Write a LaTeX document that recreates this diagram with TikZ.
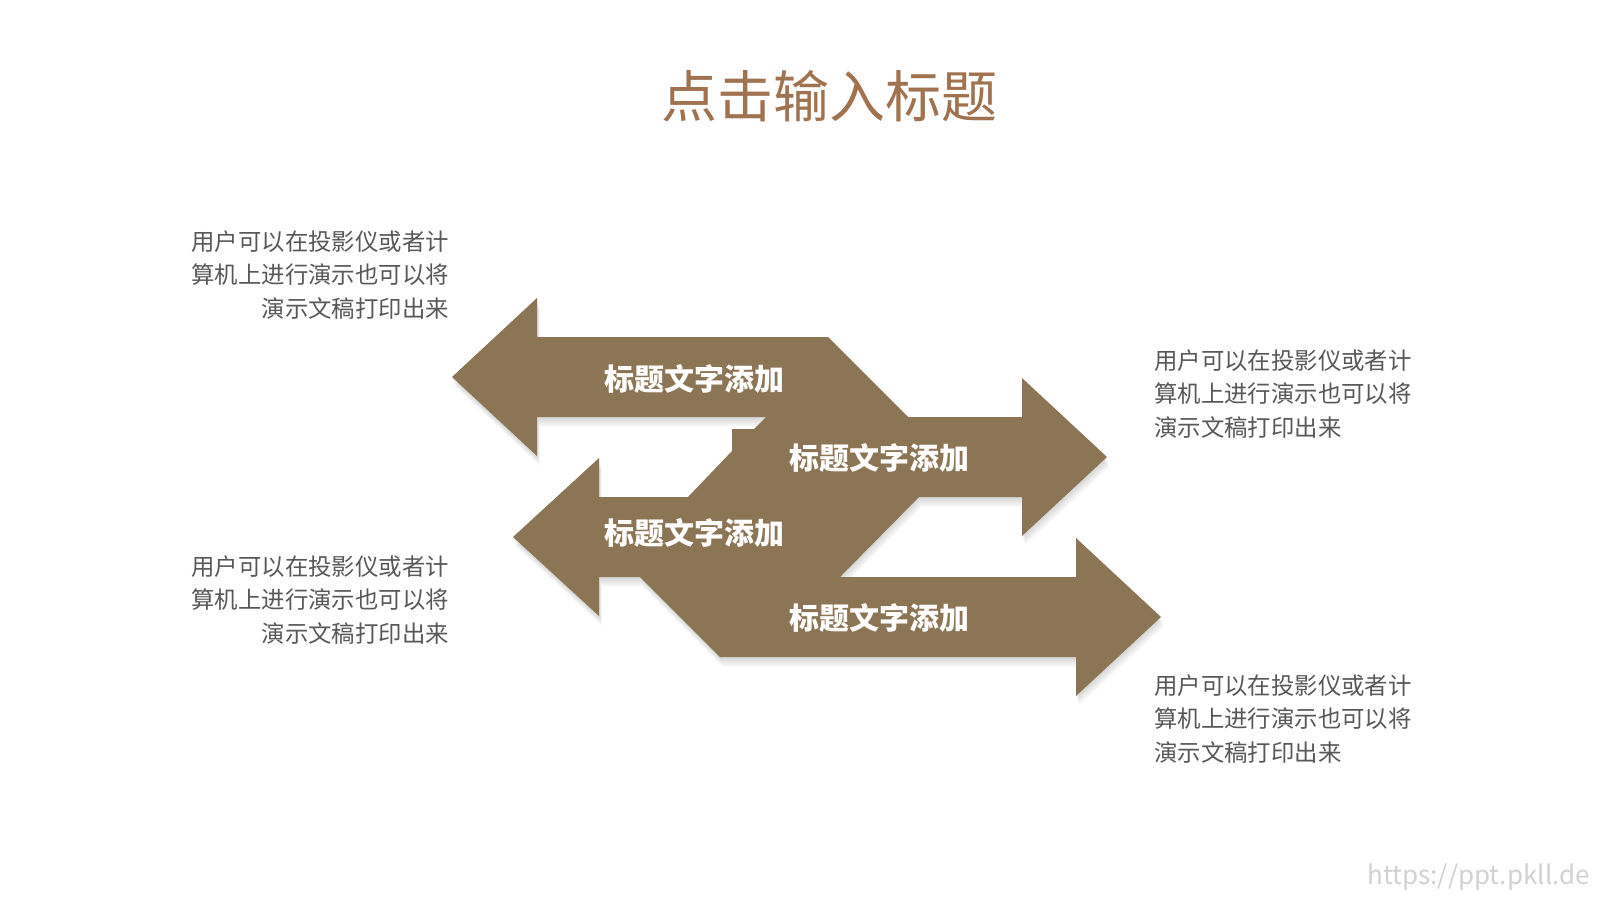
\documentclass[tikz,border=0pt]{standalone}
\usepackage{fontspec}
\setmainfont{Noto Sans CJK SC}
\newfontfamily\cjk{Noto Sans CJK SC}
\usepackage{tikz}
\definecolor{ArrowBrown}{RGB}{140,117,85}
\definecolor{TitleBrown}{RGB}{160,114,80}
\definecolor{NoteGray}{RGB}{88,88,88}
\definecolor{MarkGray}{RGB}{210,210,210}
\tikzset{lbl/.style={text=white,inner sep=0pt,font=\cjk\bfseries\fontsize{30}{30}\selectfont}, note/.style={text=NoteGray,inner sep=0pt,font=\cjk\fontsize{23.4}{33.6}\selectfont}, ttl/.style={text=TitleBrown,inner sep=0pt,font=\cjk\fontsize{56}{56}\selectfont}}
\def\zigzag{(452,377) -- (537,298) -- (537,337) -- (828,337) -- (908,417) -- (1022,417) -- (1022,378) -- (1107,457) -- (1022,536) -- (1022,497) -- (919,497) -- (840,577) -- (1076,577) -- (1076,538) -- (1161,617) -- (1076,696) -- (1076,657) -- (720,657) -- (640,577) -- (599,577) -- (599,616) -- (513,537) -- (599,458) -- (599,497) -- (688,497) -- (732,451) -- (732,429) -- (754,429) -- (766,417) -- (537,417) -- (537,456) -- cycle}

\begin{document}
\begin{tikzpicture}[x=1pt,y=-1pt]
\useasboundingbox[fill=white] (0,0) rectangle (1600,900);
% soft shadow
\foreach \s in {1,...,10}
  \fill[black,opacity=0.016,shift={(0.3*\s,\s)}] \zigzag;
\fill[ArrowBrown] \zigzag;
\node[ttl] (title) at (829,96) {点击输入标题};
\node[lbl] (la) at (694,379) {标题文字添加};
\node[lbl] (lb) at (879,458) {标题文字添加};
\node[lbl] (lc) at (694,533) {标题文字添加};
\node[lbl] (ld) at (879,618) {标题文字添加};
\node[note,align=right,anchor=east] (na) at (449,275) {用户可以在投影仪或者计\\算机上进行演示也可以将\\演示文稿打印出来};
\node[note,align=right,anchor=east] (nc) at (449,600) {用户可以在投影仪或者计\\算机上进行演示也可以将\\演示文稿打印出来};
\node[note,align=left,anchor=west] (nb) at (1154,394) {用户可以在投影仪或者计\\算机上进行演示也可以将\\演示文稿打印出来};
\node[note,align=left,anchor=west] (nd) at (1154,719) {用户可以在投影仪或者计\\算机上进行演示也可以将\\演示文稿打印出来};
\node[text=MarkGray,inner sep=0pt,anchor=east,font=\fontsize{26}{26}\selectfont] (mark) at (1590,877) {https://ppt.pkll.de};
\end{tikzpicture}
\end{document}
